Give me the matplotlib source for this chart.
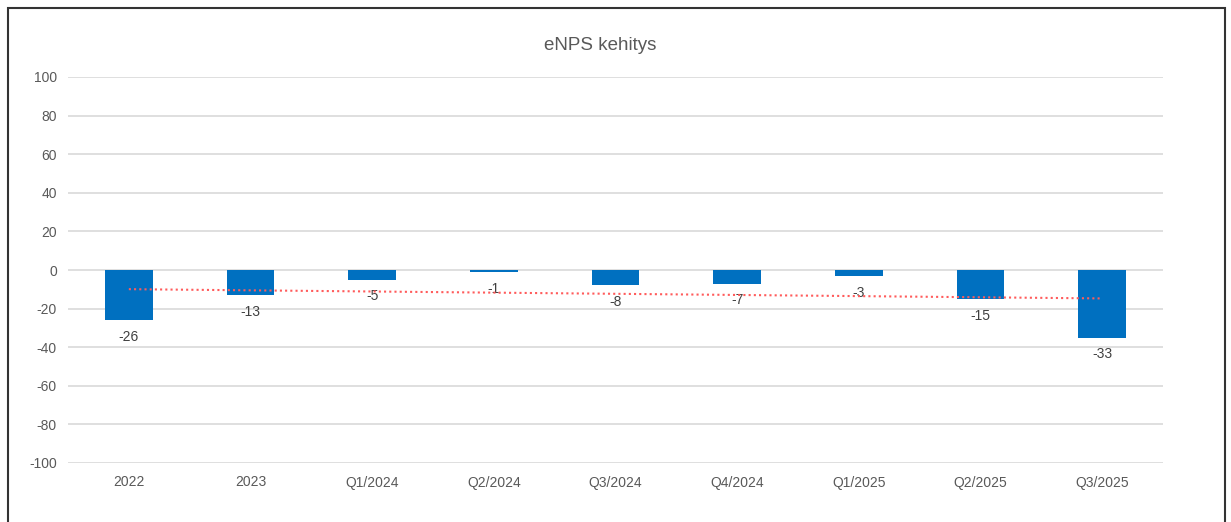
import matplotlib
matplotlib.use("Agg")
import matplotlib.pyplot as plt
import numpy as np
from matplotlib.patches import Rectangle
from matplotlib.ticker import FuncFormatter

# ---- data ----
categories = ["2022", "2023", "Q1/2024", "Q2/2024", "Q3/2024",
              "Q4/2024", "Q1/2025", "Q2/2025", "Q3/2025"]
label_values = [-26, -13, -5, -1, -8, -7, -3, -15, -33]   # printed labels
bar_values = [-26, -13, -5, -1, -8, -7, -3, -15, -35]     # bar heights as drawn
y_ticks = [-100, -80, -60, -40, -20, 0, 20, 40, 60, 80, 100]

BLUE = "#0070C0"
GRID = "#D9D9D9"
TEXT = "#595959"

plt.rcParams["font.family"] = ["Liberation Sans", "DejaVu Sans"]
plt.rcParams["axes.unicode_minus"] = False

W, H = 1231, 522
fig = plt.figure(figsize=(W / 100, H / 100), dpi=100)
ax = fig.add_axes([68 / W, 1 - 463 / H, (1163 - 68) / W, (463 - 77) / H])

x = np.arange(len(categories))
ax.bar(x, bar_values, width=0.39, color=BLUE, zorder=3)

for xi, v, lab in zip(x, bar_values, label_values):
    ax.annotate(f"{lab}", xy=(xi, v), xytext=(0, -7), textcoords="offset points",
                ha="center", va="top", fontsize=10, color="#404040", zorder=4)

# linear trend line (dotted red)
k, b = np.polyfit(x, label_values, 1)
ax.plot(x, k * x + b, color="#FF5B5B", lw=1.5, ls=(0, (1, 1.5)), zorder=4)

ax.set_xlim(-0.5, len(categories) - 0.5)
ax.set_ylim(-100, 100)
ax.set_yticks(y_ticks)
ax.yaxis.set_major_formatter(FuncFormatter(lambda v, p: f"{int(v)}"))
ax.set_xticks(x)
ax.set_xticklabels(categories)
ax.tick_params(axis="both", length=0, labelsize=10, labelcolor=TEXT)
ax.tick_params(axis="x", pad=9)
ax.tick_params(axis="y", pad=8)
ax.yaxis.grid(True, color=GRID, lw=1.2, zorder=0)
for s in ax.spines.values():
    s.set_visible(False)

fig.text(600 / W, 1 - 45 / H, "eNPS kehitys", ha="center", va="center",
         fontsize=13.5, color=TEXT)

# outer frame (bottom edge falls outside the image)
fig.patches.append(Rectangle((8 / W, -0.05), (1225 - 8) / W, 1.05 - 8 / H,
                             transform=fig.transFigure, fill=False,
                             edgecolor="#333333", lw=1.5))

fig.savefig("out.png", dpi=100)
